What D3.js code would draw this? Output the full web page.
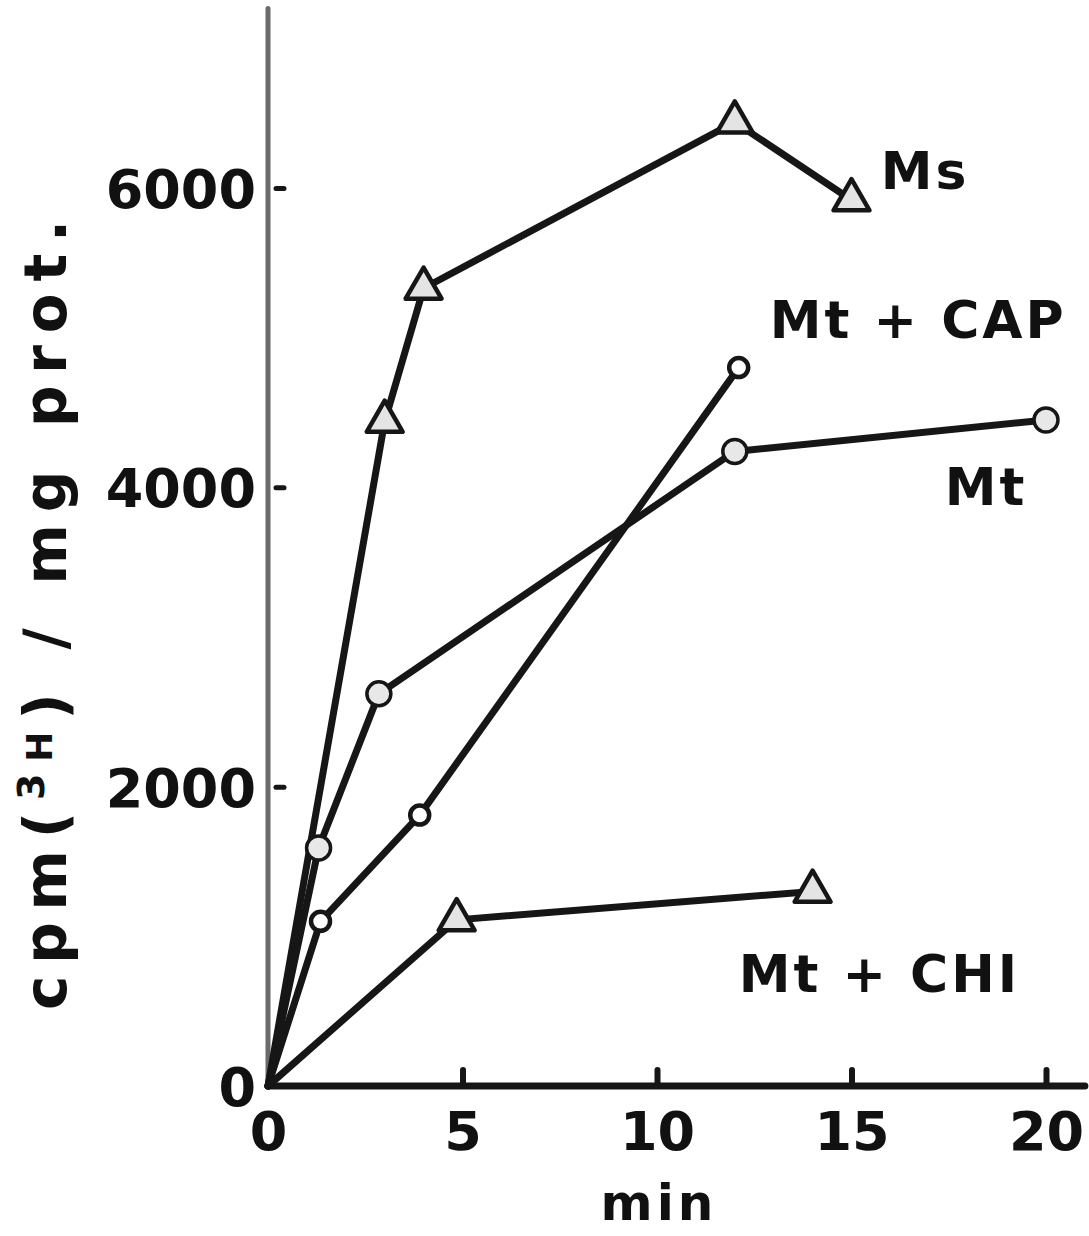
<!DOCTYPE html>
<html>
<head>
<meta charset="utf-8">
<script src="https://cdn.jsdelivr.net/npm/d3@7"></script>
<style>
    body { margin: 0; background: #fff; }
    svg { display: block; }
    text { font-family: 'DejaVu Sans', sans-serif; font-weight: bold; fill: #111; }
</style>
</head>
<body>
<div id="chart"></div>
<script>
'use strict';

// Time points (min) and cpm(3H)/mg prot. per series.
var msTime     = [0, 3, 4, 12, 15];
var msCpm      = [0, 4440, 5330, 6440, 5920];
var mtTime     = [0, 1.3, 2.85, 12, 20];
var mtCpm      = [0, 1590, 2620, 4240, 4450];
var capTime    = [0, 1.35, 3.9, 12.1];
var capCpm     = [0, 1100, 1810, 4800];
var chiTime    = [0, 4.85, 14];
var chiCpm     = [0, 1110, 1300];

var xTicks     = [0, 5, 10, 15, 20];
var yTicks     = [0, 2000, 4000, 6000];

var seriesNames   = ['Ms', 'Mt + CAP', 'Mt', 'Mt + CHI'];
var seriesLabelAt = [[15.75, 5990], [12.9, 5000], [17.4, 3880], [12.1, 630]];

var width  = 1089,
    height = 1236,
    ink    = '#161616';

var svg = d3.select('#chart').append('svg')
    .attr('width', width)
    .attr('height', height);

var x = d3.scaleLinear().domain([0, 20]).range([268, 1046]);
var y = d3.scaleLinear().domain([0, 6000]).range([1086, 188]);

function zip(xs, ys) {
    return xs.map(function (v, i) {
        return {t: v, c: ys[i]};
    });
}

// Y axis: long thin grey line, short ticks pointing into the plot.
var yAxis = svg.append('g')
    .attr('class', 'axis y')
    .attr('transform', 'translate(' + x(0) + ',0)')
    .call(d3.axisLeft(y).tickValues(yTicks).tickFormat(d3.format('d'))
        .tickSizeInner(-16).tickSizeOuter(0).tickPadding(28));

yAxis.select('.domain').remove();
yAxis.selectAll('.tick line').attr('stroke', ink).attr('stroke-width', 5).attr('stroke-linecap', 'round')
    .attr('x1', 8);
yAxis.selectAll('.tick').filter(function (d) { return d === 0; }).select('line').remove();
yAxis.selectAll('.tick text')
    .attr('font-size', 54)
    .attr('fill', ink)
    .attr('dy', '0.36em')
    .attr('x', -12);

svg.append('line')
    .attr('x1', x(0)).attr('x2', x(0))
    .attr('y1', y(0)).attr('y2', y(7200))
    .attr('stroke', '#6a6a6a')
    .attr('stroke-width', 5)
    .attr('stroke-linecap', 'round');

// X axis: heavy black rule, little upward tick bumps.
var xAxis = svg.append('g')
    .attr('class', 'axis x')
    .attr('transform', 'translate(0,' + y(0) + ')')
    .call(d3.axisBottom(x).tickValues(xTicks).tickFormat(d3.format('d'))
        .tickSizeInner(-16).tickSizeOuter(0).tickPadding(40));

xAxis.select('.domain').remove();
xAxis.selectAll('.tick').filter(function (d) { return d === 0; }).select('line').remove();
xAxis.selectAll('.tick line').attr('stroke', ink).attr('stroke-width', 6).attr('stroke-linecap', 'round');
xAxis.selectAll('.tick text')
    .attr('font-size', 54)
    .attr('fill', ink)
    .attr('dy', '0.71em')
    .attr('y', 26);

svg.append('line')
    .attr('x1', x(0)).attr('x2', x(21))
    .attr('y1', y(0)).attr('y2', y(0))
    .attr('stroke', ink)
    .attr('stroke-width', 7)
    .attr('stroke-linecap', 'round');

// Axis titles.
svg.append('text')
    .attr('x', (x(0) + x(20)) / 2 + 2)
    .attr('y', 1220)
    .attr('text-anchor', 'middle')
    .attr('font-size', 50)
    .attr('letter-spacing', 4)
    .text('min');

var yTitle = svg.append('text')
    .attr('transform', 'translate(66,615) rotate(-90)')
    .attr('text-anchor', 'middle')
    .attr('font-size', 58)
    .attr('textLength', 790)
    .attr('lengthAdjust', 'spacing');
yTitle.append('tspan').text('cpm(');
yTitle.append('tspan').attr('font-size', 38).attr('dy', -22).text('3');
yTitle.append('tspan').attr('font-size', 36).attr('dy', 8).text('H');
yTitle.append('tspan').attr('dy', 14).text(') / mg prot.');

// Series lines.
var line = d3.line()
    .x(function (d) { return x(d.t); })
    .y(function (d) { return y(d.c); });

var series = [zip(msTime, msCpm), zip(capTime, capCpm), zip(mtTime, mtCpm), zip(chiTime, chiCpm)];
var markers = ['triangle', 'open', 'filled', 'triangle'];

svg.selectAll('.series')
    .data(series)
    .enter().append('path')
    .attr('class', 'series')
    .attr('d', line)
    .attr('fill', 'none')
    .attr('stroke', ink)
    .attr('stroke-width', 7)
    .attr('stroke-linejoin', 'round')
    .attr('stroke-linecap', 'round');

// Markers (skip the shared origin point).
series.forEach(function (pts, i) {
    var g = svg.append('g').attr('class', 'markers');
    var sel = g.selectAll('.m').data(pts.slice(1)).enter();

    if (markers[i] === 'triangle') {
        sel.append('path')
            .attr('d', d3.symbol().type(d3.symbolTriangle).size(560))
            .attr('transform', function (d) { return 'translate(' + x(d.t) + ',' + y(d.c) + ')'; })
            .attr('fill', '#e4e4e4')
            .attr('stroke', ink)
            .attr('stroke-width', 4.5)
            .attr('stroke-linejoin', 'round');
    } else {
        sel.append('circle')
            .attr('cx', function (d) { return x(d.t); })
            .attr('cy', function (d) { return y(d.c); })
            .attr('r', markers[i] === 'filled' ? 12 : 9.5)
            .attr('fill', markers[i] === 'filled' ? '#e8e8e8' : '#fff')
            .attr('stroke', ink)
            .attr('stroke-width', markers[i] === 'filled' ? 3.5 : 4.5);
    }
});

// Series labels.
svg.selectAll('.label')
    .data(seriesNames)
    .enter().append('text')
    .attr('class', 'label')
    .attr('x', function (d, i) { return x(seriesLabelAt[i][0]); })
    .attr('y', function (d, i) { return y(seriesLabelAt[i][1]); })
    .attr('font-size', 52)
    .attr('letter-spacing', 3)
    .text(function (d) { return d; });
</script>
</body>
</html>
